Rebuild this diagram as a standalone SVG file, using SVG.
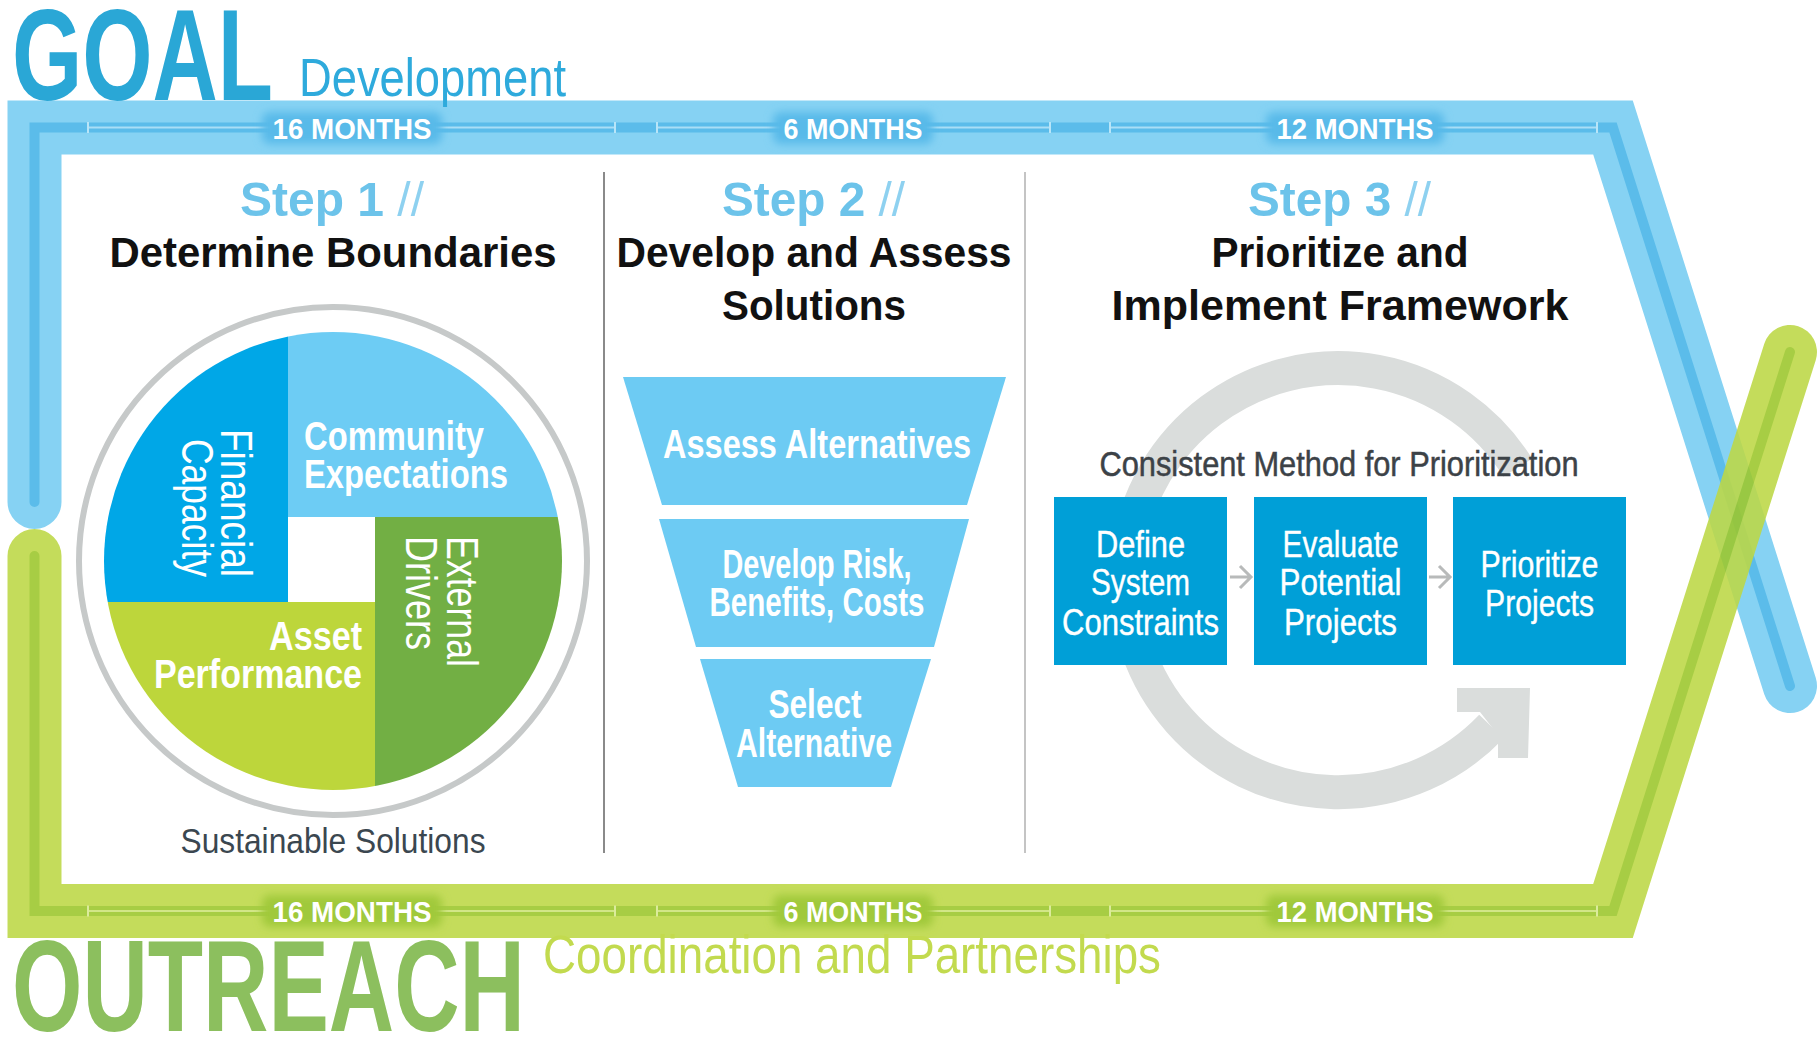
<svg xmlns="http://www.w3.org/2000/svg" width="1820" height="1038" viewBox="0 0 1820 1038">
<defs>
<filter id="blur" x="-20%" y="-50%" width="140%" height="200%"><feGaussianBlur stdDeviation="4"/></filter>
<clipPath id="disc"><circle cx="333" cy="561" r="229"/></clipPath>
</defs>
<style>
text{font-family:"Liberation Sans",Arial,sans-serif}
.ttl{font-size:130px;font-weight:bold}
.mon{font-size:30px;font-weight:bold;fill:#fff;text-anchor:middle}
.step{font-size:49px;font-weight:bold;fill:#6CC3EA}
.sl{font-weight:normal;fill:#8ED1F0}
.head{font-size:43px;font-weight:bold;fill:#111;text-anchor:middle}
.qb{font-size:41px;font-weight:bold;fill:#fff}
.qr{font-size:44px;fill:#fff}
.fun{font-size:40px;font-weight:bold;fill:#fff;text-anchor:middle}
.box{font-size:37px;fill:#fff;text-anchor:middle;stroke:#fff;stroke-width:0.4}
.band{fill:none;stroke-linecap:round;stroke-linejoin:miter}
.bglow{fill:#58BAE9;filter:url(#blur)}
.gglow{fill:#A0C93A;filter:url(#blur)}
</style>
<rect width="1820" height="1038" fill="#fff"/>

<g id="goal-band">
<path class="band" d="M34.5 502 V127.5 H1613 L1790 686" stroke="#86D2F3" stroke-width="54"/>
<path class="band" d="M34.5 502 V127.5 H1613 L1790 686" stroke="#5BBCEA" stroke-width="10"/>
<path d="M88 127.5H615 M657 127.5H1050 M1110 127.5H1597" stroke="#A9DEF6" stroke-width="2" fill="none"/>
<path d="M88 122v11 M615 122v11 M657 122v11 M1050 122v11 M1110 122v11 M1597 122v11" stroke="#B8E5F8" stroke-width="2"/>
<rect class="bglow" x="262" y="112" width="180" height="32" rx="8"/>
<rect class="bglow" x="773" y="112" width="160" height="32" rx="8"/>
<rect class="bglow" x="1266" y="112" width="178" height="32" rx="8"/>
<text class="mon" x="352" y="139" textLength="159" lengthAdjust="spacingAndGlyphs">16 MONTHS</text>
<text class="mon" x="853" y="139" textLength="139" lengthAdjust="spacingAndGlyphs">6 MONTHS</text>
<text class="mon" x="1355" y="139" textLength="157" lengthAdjust="spacingAndGlyphs">12 MONTHS</text>
</g>

<g id="outreach-band">
<g opacity="0.88">
<path class="band" d="M34.5 556 V911 H1613 L1790 352" stroke="#BDD845" stroke-width="54"/>
<path class="band" d="M34.5 556 V911 H1613 L1790 352" stroke="#9CC72B" stroke-width="10"/>
</g>
<path d="M88 911H615 M657 911H1050 M1110 911H1597" stroke="#D2E688" stroke-width="2" fill="none"/>
<path d="M88 905.5v11 M615 905.5v11 M657 905.5v11 M1050 905.5v11 M1110 905.5v11 M1597 905.5v11" stroke="#DCEB9C" stroke-width="2"/>
<rect class="gglow" x="262" y="895" width="180" height="32" rx="8"/>
<rect class="gglow" x="773" y="895" width="160" height="32" rx="8"/>
<rect class="gglow" x="1266" y="895" width="178" height="32" rx="8"/>
<text class="mon" x="352" y="922" textLength="159" lengthAdjust="spacingAndGlyphs">16 MONTHS</text>
<text class="mon" x="853" y="922" textLength="139" lengthAdjust="spacingAndGlyphs">6 MONTHS</text>
<text class="mon" x="1355" y="922" textLength="157" lengthAdjust="spacingAndGlyphs">12 MONTHS</text>
</g>

<g id="titles">
<text class="ttl" x="12" y="100" fill="#2AA7D6" textLength="261" lengthAdjust="spacingAndGlyphs">GOAL</text>
<text x="299" y="96" font-size="53" fill="#2EAADC" textLength="267" lengthAdjust="spacingAndGlyphs">Development</text>
<text class="ttl" x="12" y="1031" fill="#8CBF5E" font-size="127" textLength="513" lengthAdjust="spacingAndGlyphs">OUTREACH</text>
<text x="543" y="973" font-size="53" fill="#C2DA4E" textLength="618" lengthAdjust="spacingAndGlyphs">Coordination and Partnerships</text>
</g>

<g id="dividers">
<line x1="604" y1="172" x2="604" y2="853" stroke="#8A8A8A" stroke-width="2"/>
<line x1="1025" y1="172" x2="1025" y2="853" stroke="#C4C4C4" stroke-width="2"/>
</g>

<g id="step1">
<text class="step" x="240" y="216" textLength="184" lengthAdjust="spacingAndGlyphs">Step 1 <tspan class="sl">//</tspan></text>
<text class="head" x="333" y="267" textLength="447" lengthAdjust="spacingAndGlyphs">Determine Boundaries</text>
<circle cx="333" cy="561" r="254" fill="none" stroke="#C6C9C9" stroke-width="6"/>
<g clip-path="url(#disc)">
<rect x="100" y="330" width="188" height="272" fill="#00A7E7"/>
<rect x="288" y="330" width="280" height="187" fill="#6DCCF4"/>
<rect x="375" y="517" width="193" height="280" fill="#72AF44"/>
<rect x="100" y="602" width="275" height="195" fill="#BDD63B"/>
<rect x="288" y="517" width="87" height="85" fill="#fff"/>
</g>
<text class="qb" x="304" y="450" textLength="180" lengthAdjust="spacingAndGlyphs">Community</text>
<text class="qb" x="304" y="488" textLength="204" lengthAdjust="spacingAndGlyphs">Expectations</text>
<text class="qb" x="362" y="650" text-anchor="end" textLength="93" lengthAdjust="spacingAndGlyphs">Asset</text>
<text class="qb" x="362" y="688" text-anchor="end" textLength="208" lengthAdjust="spacingAndGlyphs">Performance</text>
<text class="qr" transform="translate(221 577) rotate(90)" text-anchor="end" textLength="148" lengthAdjust="spacingAndGlyphs">Financial</text>
<text class="qr" transform="translate(182 577) rotate(90)" text-anchor="end" textLength="138" lengthAdjust="spacingAndGlyphs">Capacity</text>
<text class="qr" transform="translate(447 536) rotate(90)" textLength="131" lengthAdjust="spacingAndGlyphs">External</text>
<text class="qr" transform="translate(406 536) rotate(90)" textLength="114" lengthAdjust="spacingAndGlyphs">Drivers</text>
<text x="333" y="853" font-size="35" fill="#3B4750" text-anchor="middle" textLength="305" lengthAdjust="spacingAndGlyphs">Sustainable Solutions</text>
</g>

<g id="step2">
<text class="step" x="722" y="216" textLength="183" lengthAdjust="spacingAndGlyphs">Step 2 <tspan class="sl">//</tspan></text>
<text class="head" x="814" y="267" textLength="395" lengthAdjust="spacingAndGlyphs">Develop and Assess</text>
<text class="head" x="814" y="320" textLength="184" lengthAdjust="spacingAndGlyphs">Solutions</text>
<polygon points="623,377 1006,377 967,505 662,505" fill="#6DCBF3"/>
<polygon points="659,519 969,519 934,647 696,647" fill="#6DCBF3"/>
<polygon points="700,659 931,659 891,787 738,787" fill="#6DCBF3"/>
<text class="fun" x="817" y="458" textLength="308" lengthAdjust="spacingAndGlyphs">Assess Alternatives</text>
<text class="fun" x="817" y="578" textLength="189" lengthAdjust="spacingAndGlyphs">Develop Risk,</text>
<text class="fun" x="817" y="616" textLength="215" lengthAdjust="spacingAndGlyphs">Benefits, Costs</text>
<text class="fun" x="815" y="718" textLength="93" lengthAdjust="spacingAndGlyphs">Select</text>
<text class="fun" x="814" y="757" textLength="156" lengthAdjust="spacingAndGlyphs">Alternative</text>
</g>

<g id="step3">
<text class="step" x="1248" y="216" textLength="183" lengthAdjust="spacingAndGlyphs">Step 3 <tspan class="sl">//</tspan></text>
<text class="head" x="1340" y="267" textLength="257" lengthAdjust="spacingAndGlyphs">Prioritize and</text>
<text class="head" x="1340" y="320" textLength="457" lengthAdjust="spacingAndGlyphs">Implement Framework</text>
<path d="M1517.8 467.7 A212 212 0 1 0 1491.5 726.5" fill="none" stroke="#DADDDC" stroke-width="34"/>
<polygon points="1457,688 1530,688 1528,758 1498,758 1498,735 1480,712 1457,712" fill="#DADDDC"/>
<text x="1339" y="476" font-size="35" fill="#3C4247" stroke="#3C4247" stroke-width="0.5" text-anchor="middle" textLength="479" lengthAdjust="spacingAndGlyphs">Consistent Method for Prioritization</text>
</g>

<g id="box-define">
<rect x="1054" y="497" width="173" height="168" fill="#009FD7"/>
<text class="box" x="1140.5" y="557" textLength="89" lengthAdjust="spacingAndGlyphs">Define</text>
<text class="box" x="1140.5" y="595" textLength="99" lengthAdjust="spacingAndGlyphs">System</text>
<text class="box" x="1140.5" y="635" textLength="157" lengthAdjust="spacingAndGlyphs">Constraints</text>
</g>
<g id="box-evaluate">
<rect x="1254" y="497" width="173" height="168" fill="#009FD7"/>
<text class="box" x="1340.5" y="557" textLength="116" lengthAdjust="spacingAndGlyphs">Evaluate</text>
<text class="box" x="1340.5" y="595" textLength="122" lengthAdjust="spacingAndGlyphs">Potential</text>
<text class="box" x="1340.5" y="635" textLength="113" lengthAdjust="spacingAndGlyphs">Projects</text>
</g>
<g id="box-prioritize">
<rect x="1453" y="497" width="173" height="168" fill="#009FD7"/>
<text class="box" x="1539.5" y="577" textLength="118" lengthAdjust="spacingAndGlyphs">Prioritize</text>
<text class="box" x="1539.5" y="616" textLength="109" lengthAdjust="spacingAndGlyphs">Projects</text>
</g>

<g id="connectors" fill="none" stroke="#B8BABA" stroke-width="3">
<path d="M1230 577H1250 M1240 566L1251 577L1240 588"/>
<path d="M1429 577H1449 M1439 566L1450 577L1439 588"/>
</g>
</svg>
